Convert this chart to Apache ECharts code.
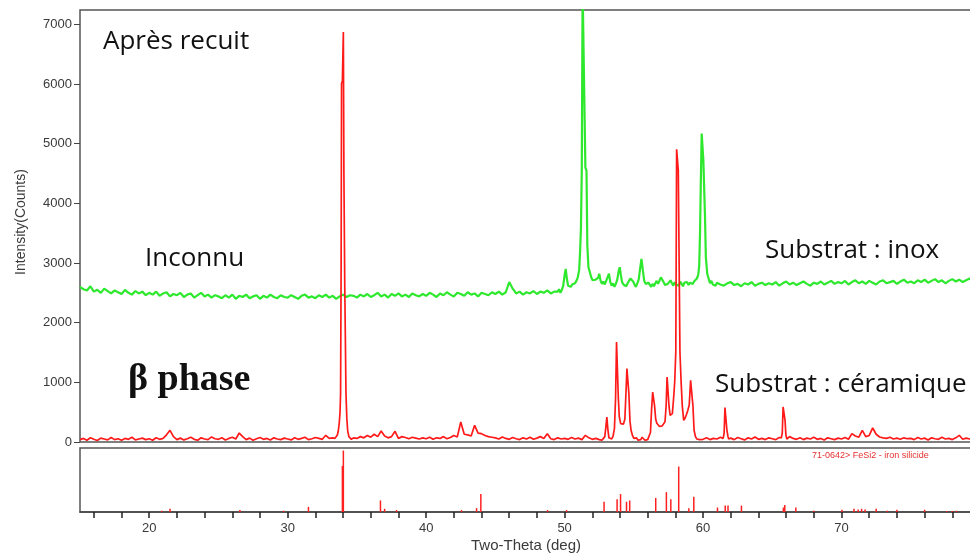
<!DOCTYPE html>
<html>
<head>
<meta charset="utf-8">
<script src="https://cdn.jsdelivr.net/npm/echarts@6/dist/echarts.min.js"></script>
<style>html,body{margin:0;padding:0;background:#fff}#c{width:970px;height:555px}</style>
</head>
<body>
<div id="c"></div>
<script>
// ---------- DATA ----------
// two-theta scan grid: starts at 15.0 deg, one reading every 0.25 deg
const scanStart = 15.0;
const scanStep = 0.25;

// green trace (substrat inox), baseline readings 15.0 .. 80.0
const greenScan = [
  2600,2560,2540,2610,2520,2550,2500,2570,2530,2490,2540,2510,2480,2550,2500,2470,2530,2490,2520,2460,
  2500,2470,2520,2450,2490,2510,2440,2480,2460,2500,2430,2470,2490,2420,2460,2500,2440,2470,2420,2460,
  2440,2410,2460,2420,2470,2400,2450,2430,2470,2410,2440,2460,2400,2450,2420,2470,2430,2410,2460,2430,
  2420,2460,2430,2400,2450,2470,2420,2440,2410,2460,2430,2470,2420,2450,2400,2440,2470,2430,2460,2450,
  2420,2470,2440,2480,2430,2460,2500,2440,2470,2420,2480,2450,2490,2440,2470,2430,2490,2460,2440,2480,
  2450,2500,2470,2430,2490,2460,2510,2470,2440,2500,2480,2450,2510,2470,2490,2440,2500,2480,2460,2510,
  2480,2520,2470,2510,2680,2570,2490,2520,2470,2510,2490,2530,2480,2520,2500,2540,2490,2520,2550,2510,
  2600,2620,2640,2660,2650,2630,2660,2640,2620,2650,2660,2640,2630,2650,2670,2640,2620,2660,2640,2650,
  2640,2660,2630,2650,2670,2640,2620,2650,2660,2640,2630,2650,2670,2640,2660,2630,2650,2640,2660,2650,
  2640,2660,2650,2630,2670,2640,2620,2660,2680,2630,2650,2610,2660,2640,2680,2620,2650,2670,2630,2660,
  2640,2680,2620,2660,2690,2640,2670,2630,2660,2690,2650,2620,2670,2650,2690,2640,2670,2700,2650,2680,
  2660,2700,2640,2680,2710,2660,2690,2650,2700,2670,2640,2690,2710,2660,2680,2700,2650,2690,2720,2670,
  2690,2660,2710,2680,2720,2670,2700,2730,2680,2710,2660,2700,2730,2690,2720,2680,2710,2740,2700,2720,
  2710
];
// green trace, detailed readings around the big reflections
const greenPeaks = [
  [49.5,2520],[49.6,2560],[49.7,2500],[49.8,2550],[49.9,2620],[50.0,2800],[50.08,2900],[50.16,2740],
  [50.25,2620],[50.35,2650],[50.45,2600],[50.55,2640],[50.65,2610],[50.75,2660],[50.85,2700],[50.95,2760],
  [51.05,2880],[51.12,3200],[51.18,3600],[51.24,4550],[51.3,7600],[51.36,7600],[51.44,7600],[51.5,4600],
  [51.58,4550],[51.64,3300],[51.72,2930],[51.82,2850],[51.92,2760],[52.02,2710],[52.12,2680],[52.22,2720],
  [52.32,2690],[52.42,2750],[52.5,2820],[52.6,2700],[52.7,2650],[52.8,2690],[52.9,2640],[53.0,2700],
  [53.1,2760],[53.2,2820],[53.3,2680],[53.4,2620],[53.5,2660],[53.6,2600],[53.7,2650],[53.8,2720],
  [53.9,2860],[53.98,2930],[54.06,2800],[54.15,2680],[54.25,2640],[54.35,2650],[54.45,2610],[54.55,2660],
  [54.65,2700],[54.75,2740],[54.85,2770],[54.95,2690],[55.05,2640],[55.15,2600],[55.25,2660],[55.35,2720],
  [55.45,2900],[55.55,3070],[55.65,2880],[55.75,2700],[55.85,2650],[55.95,2620],[56.05,2670],[56.15,2640],
  [56.25,2600],[56.35,2650],[56.45,2610],[56.55,2660],[56.65,2700],[56.75,2650],[56.85,2700],[56.95,2760],
  [57.05,2770],[57.15,2680],[57.25,2630],[57.35,2600],[57.45,2650],[57.55,2680],[57.65,2710],[57.75,2660],
  [57.85,2620],[57.95,2680],[58.05,2640],[58.15,2660],[58.25,2620],[58.35,2690],[58.45,2650],[58.55,2610],
  [58.65,2670],[58.75,2640],[58.85,2680],[58.95,2630],[59.05,2670],[59.15,2700],[59.25,2650],[59.35,2690],
  [59.45,2710],[59.55,2740],[59.65,2800],[59.72,2950],[59.78,3500],[59.84,4400],[59.9,5170],[59.96,5180],
  [60.02,4720],[60.08,4700],[60.14,3770],[60.2,3100],[60.3,2820],[60.4,2740],[60.5,2660],[60.6,2700],
  [60.7,2640],[60.8,2660],[60.9,2620],[60.95,2650]
];

// red trace (substrat céramique, beta FeSi2), baseline readings 15.0 .. 80.0
const redScan = [
  40,60,30,70,45,25,65,50,35,75,40,55,30,60,45,80,35,50,65,40,
  55,30,70,45,60,120,196,90,40,65,35,55,80,45,30,70,50,40,85,55,
  45,70,35,60,80,50,150,90,40,65,30,55,75,45,60,35,70,50,40,65,
  50,35,70,45,60,80,40,55,75,60,45,112,60,70,55,65,80,60,90,70,
  60,90,70,110,80,130,90,185,100,70,90,180,60,90,75,55,80,65,50,70,
  55,80,45,70,60,90,55,75,110,85,335,130,120,100,280,150,140,110,90,80,
  70,50,85,60,45,75,55,40,70,50,80,45,65,90,60,140,55,40,70,50,
  60,45,75,50,65,40,112,70,45,60,35,55,70,45,60,80,50,40,65,50,
  50,40,60,45,55,40,60,50,45,55,40,60,50,45,55,40,60,50,45,55,
  45,70,40,60,50,80,50,50,65,40,75,55,35,70,50,85,45,60,40,70,
  55,40,75,50,50,90,60,45,70,40,65,50,80,45,60,35,70,55,40,65,
  50,75,45,140,100,80,196,90,110,235,130,84,70,60,80,50,65,45,70,55,
  60,40,75,50,65,35,70,55,45,80,50,60,40,70,112,45,65,50,75,55,
  50
];
// red trace, detailed readings around the reflections
const redPeak34 = [
  [33.4,60],[33.5,90],[33.58,112],[33.65,180],[33.72,308],[33.78,500],[33.82,811],[33.86,3000],
  [33.89,6006],[33.95,6050],[34.02,6871],[34.06,4500],[34.12,2655],[34.18,2655],[34.21,811],
  [34.27,400],[34.33,196],[34.42,90],[34.5,60],[34.6,45]
];
const redPeaks53to59 = [
  [52.5,40],[52.6,70],[52.7,30],[52.8,60],[52.9,90],[52.98,250],[53.05,419],[53.12,220],[53.2,70],
  [53.3,90],[53.4,50],[53.5,100],[53.6,230],[53.68,732],[53.75,1676],[53.82,1676],[53.88,732],[53.95,420],
  [54.05,308],[54.15,330],[54.25,300],[54.35,380],[54.43,816],[54.5,1230],[54.57,1230],[54.64,816],
  [54.72,350],[54.8,196],[54.9,110],[55.0,60],[55.1,40],[55.2,70],[55.3,30],[55.4,60],[55.5,40],
  [55.6,80],[55.7,50],[55.8,30],[55.9,60],[56.0,40],[56.1,70],[56.2,160],[56.28,542],[56.36,838],
  [56.43,838],[56.5,600],[56.58,380],[56.66,313],[56.75,290],[56.85,260],[56.95,251],[57.05,270],
  [57.15,300],[57.25,340],[57.33,600],[57.4,1089],[57.47,1089],[57.54,600],[57.62,447],[57.7,420],
  [57.78,475],[57.86,700],[57.95,1000],[58.03,1508],[58.09,4905],[58.15,4905],[58.21,4553],[58.27,4553],
  [58.33,1500],[58.42,978],[58.5,600],[58.6,363],[58.7,400],[58.8,460],[58.9,531],[59.0,620],
  [59.1,1034],[59.2,1034],[59.27,600],[59.35,196],[59.45,90],[59.55,50],[59.65,70],[59.75,40],[59.8,55]
];
const redPeak61 = [[61.45,60],[61.52,150],[61.58,576],[61.66,576],[61.72,200],[61.8,90],[61.85,50]];
const redPeak66 = [[65.65,70],[65.72,150],[65.78,587],[65.86,587],[65.92,363],[65.98,120],[66.05,50]];

// reference pattern 71-0642 FeSi2 - iron silicide (two-theta, relative intensity %)
const refSticks = [
  [20.9,2],[21.5,5],[26.55,3],[29.7,2],[31.5,8],[33.95,72],[34.02,96],[36.7,18],[37.0,5],[37.86,3],
  [42.55,3],[43.64,6],[43.95,28],[48.77,3],[50.14,3],[52.85,16],[53.79,20],[54.04,28],[54.47,16],
  [54.7,18],[56.58,22],[57.35,31],[57.67,20],[58.24,71],[58.97,6],[59.33,24],[61.04,7],[61.6,10],
  [61.8,10],[62.77,10],[65.8,7],[65.9,11],[66.7,7],[68.0,2],[70.03,3.5],[70.9,5],[71.2,4],[71.45,5],
  [71.7,4],[72.5,5],[73.3,2],[74.0,3.5],[76.0,3.5],[77.6,1.5],[78.0,1.5],[78.3,2]
];

// axis ticks / labels
const yTickValues = [0,1000,2000,3000,4000,5000,6000,7000];
const xLabelValues = [20,30,40,50,60,70];
const xTickValues = [16,18,20,22,24,26,28,30,32,34,36,38,40,42,44,46,48,50,52,54,56,58,60,62,64,66,68,70,72,74,76,78];

// ---------- build series from scan + detailed windows ----------
function build(scan, windows) {
  const pts = [];
  scan.forEach((v, i) => {
    const x = +(scanStart + i * scanStep).toFixed(2);
    const inside = windows.some(w => x >= w[0][0] && x <= w[w.length - 1][0]);
    if (!inside) pts.push([x, v]);
  });
  windows.forEach(w => w.forEach(p => pts.push(p)));
  pts.sort((a, b) => a[0] - b[0]);
  return pts;
}
const greenData = build(greenScan, [greenPeaks]);
const redData = build(redScan, [redPeak34, redPeaks53to59, redPeak61, redPeak66]);

const chart = echarts.init(document.getElementById('c'), null, {renderer: 'canvas'});
const txt = '#3a3a3a';
const option = {
  animation: false,
  backgroundColor: '#fff',
  grid: [
    {left: 80, top: 10, width: 900, height: 432, show: true, borderColor: '#555', borderWidth: 1.5,
     backgroundColor: 'transparent', containLabel: false, outerBoundsMode: 'none'},
    {left: 80, top: 448, width: 900, height: 64, show: true, borderColor: '#555', borderWidth: 1.5,
     backgroundColor: 'transparent', containLabel: false, outerBoundsMode: 'none'}
  ],
  xAxis: [
    {type: 'value', gridIndex: 0, min: 15, max: 80, axisLine: {show: false}, axisTick: {show: false},
     axisLabel: {show: false}, splitLine: {show: false}},
    {type: 'value', gridIndex: 1, min: 15, max: 80,
     axisLine: {show: true, onZero: false, lineStyle: {color: '#444', width: 1.5}},
     axisTick: {show: true, length: 6, lineStyle: {color: '#222', width: 1.5}, customValues: xTickValues},
     axisLabel: {show: true, customValues: xLabelValues, color: txt, fontFamily: 'Liberation Sans', fontSize: 13, margin: 10,
                 formatter: v => String(v)},
     splitLine: {show: false},
     name: 'Two-Theta (deg)', nameLocation: 'middle', nameGap: 26,
     nameTextStyle: {color: txt, fontFamily: 'Liberation Sans', fontSize: 15, padding: [0, 8, 0, 0]}}
  ],
  yAxis: [
    {type: 'value', gridIndex: 0, min: 0, max: 7240,
     axisLine: {show: false},
     axisTick: {show: true, length: 6, lineStyle: {color: '#444', width: 1}, customValues: yTickValues},
     axisLabel: {customValues: yTickValues, color: txt, fontFamily: 'Liberation Sans', fontSize: 13, margin: 8,
                 formatter: v => String(v)},
     splitLine: {show: false},
     name: 'Intensity(Counts)', nameLocation: 'middle', nameRotate: 90, nameGap: 52,
     nameTextStyle: {color: txt, fontFamily: 'Liberation Sans', fontSize: 14, padding: [0, 0, 0, 8]}},
    {type: 'value', gridIndex: 1, min: 0, max: 100, show: false}
  ],
  series: [
    {type: 'line', name: 'inox', xAxisIndex: 0, yAxisIndex: 0, data: greenData, symbol: 'none',
     lineStyle: {color: '#2ee82e', width: 2.2}, clip: true, z: 2},
    {type: 'line', name: 'ceramique', xAxisIndex: 0, yAxisIndex: 0, data: redData, symbol: 'none',
     lineStyle: {color: '#ff1a1a', width: 1.7}, clip: true, z: 3},
    {type: 'bar', name: 'FeSi2', xAxisIndex: 1, yAxisIndex: 1, data: refSticks, barWidth: 1.5,
     itemStyle: {color: '#ff2020'}}
  ],
  graphic: [
    {type: 'text', x: 103, y: 42, style: {text: 'Après recuit', font: '26px "Open Sans"', fill: '#111', verticalAlign: 'middle'}},
    {type: 'text', x: 145, y: 259, style: {text: 'Inconnu', font: '26px "Open Sans"', fill: '#111', verticalAlign: 'middle'}},
    {type: 'text', x: 765, y: 251, style: {text: 'Substrat : inox', font: '26px "Open Sans"', fill: '#111', verticalAlign: 'middle'}},
    {type: 'text', x: 715, y: 385, style: {text: 'Substrat : céramique', font: '26px "Open Sans"', fill: '#111', verticalAlign: 'middle'}},
    {type: 'text', x: 128, y: 380, style: {text: 'β phase', font: 'bold 38px "Liberation Serif"', fill: '#111', verticalAlign: 'middle'}},
    {type: 'text', x: 812, y: 456, style: {text: '71-0642> FeSi2 - iron silicide', font: '9px "Liberation Sans"', fill: '#e53030', verticalAlign: 'middle'}}
  ]
};
chart.setOption(option);
</script>
</body>
</html>
